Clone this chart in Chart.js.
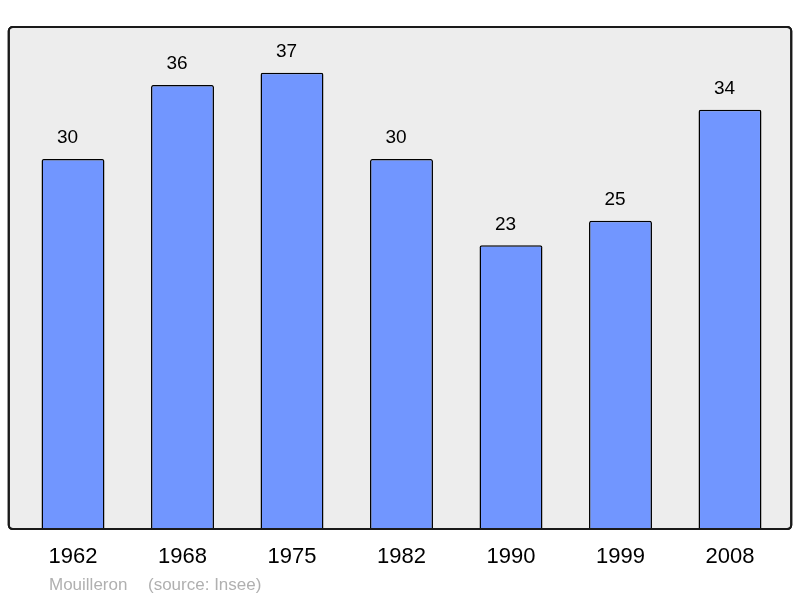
<!DOCTYPE html>
<html>
<head>
<meta charset="utf-8">
<script src="https://cdn.jsdelivr.net/npm/chart.js@4"></script>
<style>
html,body{margin:0;padding:0;background:#fff;}
canvas{display:block;}
</style>
</head>
<body>
<canvas id="c" width="800" height="598"></canvas>
<script>
const years = ["1962", "1968", "1975", "1982", "1990", "1999", "2008"];
const population = [30, 36, 37, 30, 23, 25, 34];
const yMax = 40.7;
const footerName = "Mouilleron";
const footerSource = "(source: Insee)";

const FONT = '"Liberation Sans", Arial, sans-serif';

const framePlugin = {
  id: 'frame',
  beforeDatasetsDraw(chart) {
    const ctx = chart.ctx, a = chart.chartArea;
    const x0 = a.left - 9.5, x1 = a.right + 6.5, y0 = a.top, y1 = a.bottom;
    ctx.save();
    ctx.beginPath();
    ctx.roundRect(x0, y0, x1 - x0, y1 - y0, 4);
    ctx.fillStyle = '#ededed';
    ctx.fill();
    ctx.lineWidth = 2;
    ctx.strokeStyle = '#1a1a1a';
    ctx.stroke();
    ctx.restore();
  },
  afterDatasetsDraw(chart) {
    const ctx = chart.ctx, a = chart.chartArea;
    const x0 = a.left - 9.5, x1 = a.right + 6.5, y0 = a.top, y1 = a.bottom;
    ctx.save();
    ctx.beginPath();
    ctx.roundRect(x0, y0, x1 - x0, y1 - y0, 4);
    ctx.lineWidth = 2;
    ctx.strokeStyle = '#1a1a1a';
    ctx.stroke();
    const meta = chart.getDatasetMeta(0);
    ctx.fillStyle = '#000';
    ctx.font = '19px ' + FONT;
    ctx.textAlign = 'center';
    ctx.textBaseline = 'middle';
    meta.data.forEach((bar, i) => {
      ctx.fillText(String(population[i]), bar.x - 5.5, bar.y - 21);
    });
    ctx.fillStyle = '#b0b0b0';
    ctx.font = '17px ' + FONT;
    ctx.textAlign = 'left';
    ctx.fillText(footerName, 49, 585);
    ctx.fillText(footerSource, 148, 585);
    ctx.restore();
  }
};

new Chart(document.getElementById('c'), {
  type: 'bar',
  data: {
    labels: years,
    datasets: [{
      data: population,
      backgroundColor: '#7196ff',
      borderColor: '#000',
      borderWidth: 1.5,
      borderRadius: 2,
      barPercentage: 0.575,
      categoryPercentage: 1
    }]
  },
  options: {
    responsive: false,
    animation: false,
    devicePixelRatio: 1,
    layout: { padding: { left: 18.25, right: 15.25, top: 27, bottom: 12.5 } },
    plugins: { legend: { display: false }, tooltip: { enabled: false } },
    scales: {
      x: {
        grid: { display: false, drawTicks: false },
        border: { display: false },
        ticks: { color: '#000', font: { family: FONT, size: 22 }, padding: 15, maxRotation: 0 }
      },
      y: { display: false, min: 0, max: yMax }
    }
  },
  plugins: [framePlugin]
});
</script>
</body>
</html>
